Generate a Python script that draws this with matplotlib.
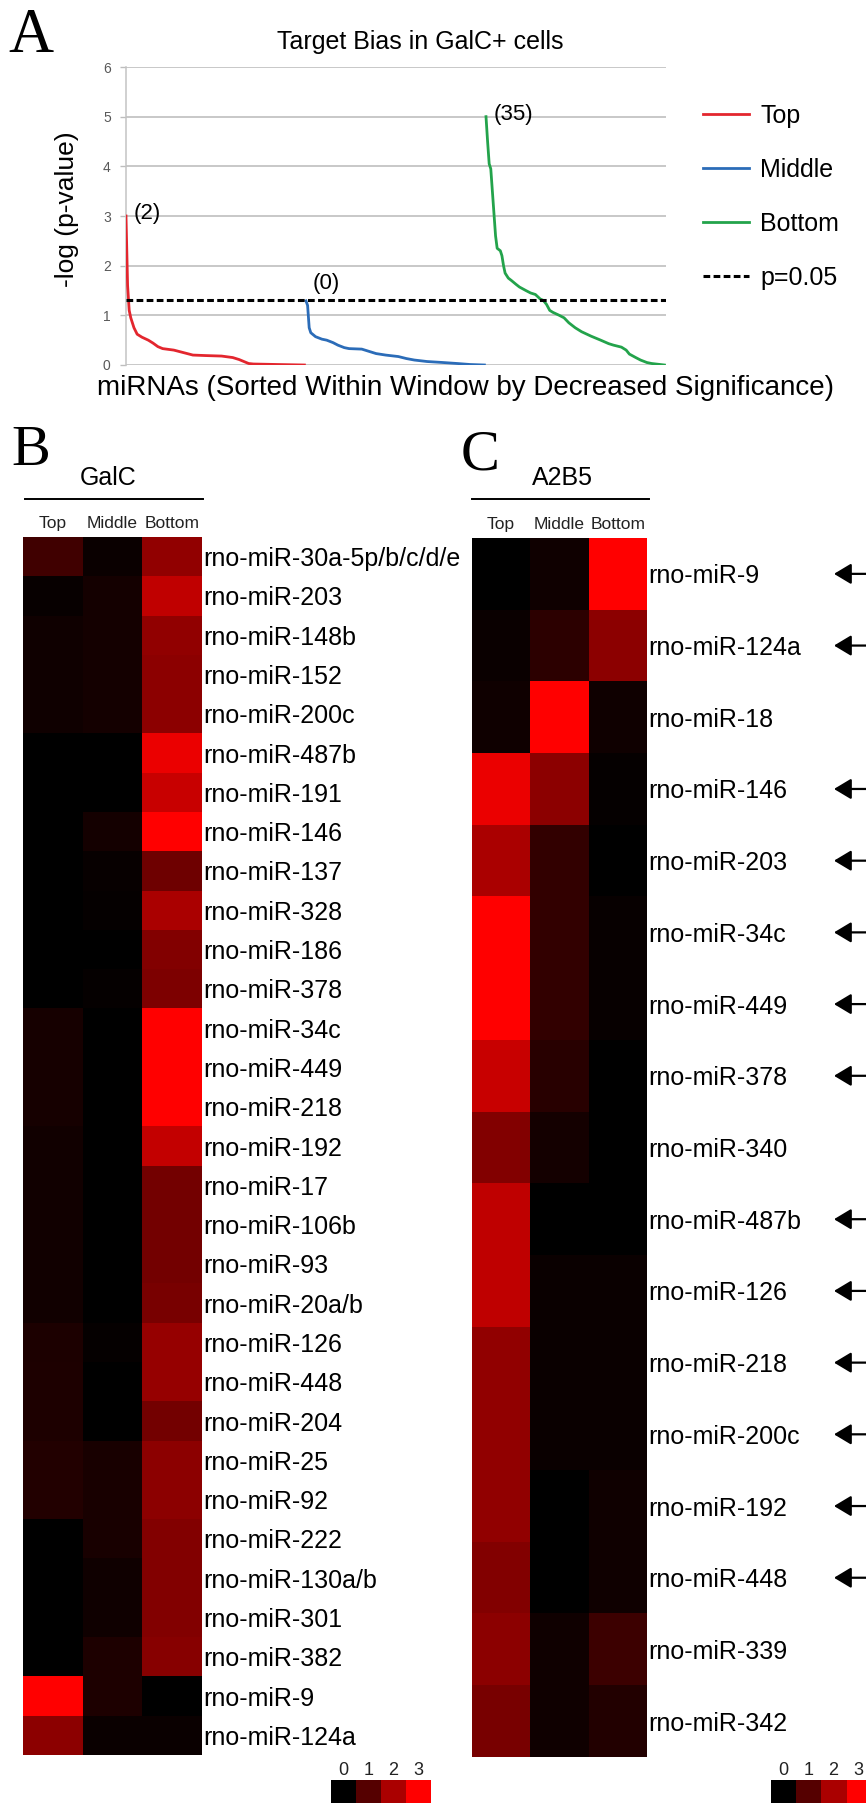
import matplotlib
matplotlib.use("Agg")
import matplotlib.pyplot as plt
import numpy as np
from matplotlib.colors import LinearSegmentedColormap
from matplotlib.lines import Line2D

plt.rcParams["font.family"] = ["Liberation Sans", "DejaVu Sans"]

# ---- panel A data: ranks within each window and -log(p)
top_rank = [0, 1, 2, 3, 5, 7, 10, 14, 17, 20, 23, 30, 36, 42, 50, 60, 67, 71, 74, 77, 80, 95, 112]
top_logp = [3.0, 1.6, 1.1, 0.95, 0.75, 0.62, 0.56, 0.5, 0.44, 0.37, 0.33, 0.3, 0.25, 0.2, 0.19, 0.18, 0.15, 0.11, 0.07, 0.03, 0.02, 0.01, 0.0]

mid_rank = [0, 1, 2, 3, 6, 10, 13, 17, 20, 24, 27, 35, 40, 44, 50, 58, 63, 68, 76, 86, 95, 103, 112]
mid_logp = [1.29, 1.2, 0.75, 0.65, 0.57, 0.52, 0.5, 0.45, 0.4, 0.35, 0.33, 0.32, 0.27, 0.23, 0.2, 0.17, 0.13, 0.1, 0.07, 0.05, 0.03, 0.01, 0.0]

bot_rank = [0, 1, 2, 3, 4, 5, 6, 7, 9, 10, 11, 12, 14, 16, 19, 21, 25, 28, 31, 34, 36, 38, 40,
            42, 46, 49, 52, 56, 60, 66, 72, 77, 80, 85, 88, 90, 94, 97, 101, 104, 112]
bot_logp = [5.0, 4.5, 4.05, 3.95, 3.5, 3.05, 2.6, 2.35, 2.3, 2.2, 2.0, 1.85, 1.75, 1.7, 1.62, 1.57,
            1.5, 1.45, 1.42, 1.33, 1.3, 1.22, 1.1, 1.06, 1.0, 0.95, 0.85, 0.75, 0.67, 0.58, 0.5,
            0.43, 0.4, 0.36, 0.3, 0.22, 0.15, 0.1, 0.05, 0.03, 0.0]

window_start = [0, 113, 226]
window_names = ["Top", "Middle", "Bottom"]
window_colors = ["#e3262e", "#2b6cb8", "#23a34b"]
n_significant = ["(2)", "(0)", "(35)"]
threshold = 1.3  # -log10(0.05)

# ---- panel B (GalC) heatmap
galc_mirnas = ["rno-miR-30a-5p/b/c/d/e", "rno-miR-203", "rno-miR-148b", "rno-miR-152", "rno-miR-200c",
               "rno-miR-487b", "rno-miR-191", "rno-miR-146", "rno-miR-137", "rno-miR-328",
               "rno-miR-186", "rno-miR-378", "rno-miR-34c", "rno-miR-449", "rno-miR-218",
               "rno-miR-192", "rno-miR-17", "rno-miR-106b", "rno-miR-93", "rno-miR-20a/b",
               "rno-miR-126", "rno-miR-448", "rno-miR-204", "rno-miR-25", "rno-miR-92",
               "rno-miR-222", "rno-miR-130a/b", "rno-miR-301", "rno-miR-382", "rno-miR-9",
               "rno-miR-124a"]
galc_top = [0.75, 0.09, 0.18, 0.18, 0.18, 0, 0, 0, 0, 0, 0, 0, 0.26, 0.26, 0.26, 0.21, 0.21, 0.21,
            0.21, 0.21, 0.33, 0.35, 0.35, 0.41, 0.41, 0, 0, 0, 0, 3.0, 1.65]
galc_mid = [0.12, 0.24, 0.24, 0.24, 0.24, 0, 0, 0.24, 0.09, 0.06, 0, 0.06, 0, 0, 0, 0, 0, 0,
            0, 0, 0.06, 0, 0, 0.29, 0.29, 0.29, 0.18, 0.18, 0.35, 0.35, 0.12]
galc_bot = [1.7, 2.26, 1.7, 1.65, 1.65, 2.76, 2.35, 3.0, 1.3, 2.0, 1.53, 1.47, 3.0, 3.0, 3.0, 2.29,
            1.35, 1.35, 1.35, 1.41, 1.76, 1.76, 1.35, 1.65, 1.65, 1.53, 1.53, 1.53, 1.59, 0, 0.12]

# ---- panel C (A2B5) heatmap
a2b5_mirnas = ["rno-miR-9", "rno-miR-124a", "rno-miR-18", "rno-miR-146", "rno-miR-203", "rno-miR-34c",
               "rno-miR-449", "rno-miR-378", "rno-miR-340", "rno-miR-487b", "rno-miR-126",
               "rno-miR-218", "rno-miR-200c", "rno-miR-192", "rno-miR-448", "rno-miR-339",
               "rno-miR-342"]
a2b5_top = [0, 0.12, 0.18, 2.76, 2.0, 3.0, 3.0, 2.35, 1.53, 2.24, 2.24, 1.7, 1.7, 1.7, 1.53, 1.65, 1.41]
a2b5_mid = [0.18, 0.53, 3.0, 1.65, 0.59, 0.59, 0.59, 0.47, 0.24, 0, 0.12, 0.12, 0.12, 0, 0, 0.18, 0.18]
a2b5_bot = [3.0, 1.65, 0.18, 0.06, 0, 0.09, 0.09, 0, 0, 0, 0.12, 0.12, 0.12, 0.18, 0.18, 0.71, 0.41]
a2b5_arrow = [1, 1, 0, 1, 1, 1, 1, 1, 0, 1, 1, 1, 1, 1, 1, 0, 0]

scale_ticks = [0, 1, 2, 3]

W, H = 866, 1803
fig = plt.figure(figsize=(W / 100, H / 100), dpi=100)


def px_axes(left, top, width, height):
    return fig.add_axes([left / W, 1 - (top + height) / H, width / W, height / H])


def px_text(x, y, s, **kw):
    return fig.text(x / W, 1 - y / H, s, **kw)


def px_line(x0, x1, y, **kw):
    fig.add_artist(Line2D([x0 / W, x1 / W], [1 - y / H, 1 - y / H], transform=fig.transFigure, **kw))


cmap = LinearSegmentedColormap.from_list("blackred", ["#000000", "#ff0000"])

# ================= Panel A =================
ax = px_axes(126, 67, 540, 298)
for start, ranks, vals, name, col in zip(window_start, [top_rank, mid_rank, bot_rank],
                                         [top_logp, mid_logp, bot_logp], window_names, window_colors):
    ax.plot(np.array(ranks) + start, vals, color=col, lw=2.0, label=name, zorder=3,
            solid_joinstyle="round")
ax.axhline(threshold, color="black", lw=2.2, ls=(0, (2.2, 1.1)), label="p=0.05", zorder=4)

for start, vals, txt in zip(window_start, [top_logp, mid_logp, bot_logp], n_significant):
    if txt == "(0)":
        ax.text(start + 4, vals[0] + 0.35, txt, fontsize=16, ha="left", va="center")
    else:
        ax.text(start + 5, vals[0] + 0.05, txt, fontsize=16, ha="left", va="center")

ax.set_xlim(0, 339)
ax.set_ylim(0, 6)
ax.set_yticks(range(7))
ax.set_xticks([])
ax.yaxis.grid(True, color="#c4c4c4", lw=1.3)
ax.set_axisbelow(True)
ax.tick_params(axis="y", colors="#bdbdbd", labelcolor="#595959", labelsize=10, length=4, width=1, pad=7)
for s in ["top", "right", "bottom"]:
    ax.spines[s].set_visible(False)
ax.spines["left"].set_color("#c4c4c4")
ax.spines["left"].set_linewidth(1.1)

ax.legend(loc="upper left", bbox_to_anchor=(703 / W, 1 - 104 / H), bbox_transform=fig.transFigure,
          frameon=False, fontsize=18, handlelength=1.85, handletextpad=0.45, labelspacing=1.2,
          borderpad=0, borderaxespad=0)

px_text(420, 42, "Target Bias in GalC+ cells", fontsize=18, ha="center", va="center")
px_text(465, 388, "miRNAs (Sorted Within Window by Decreased Significance)", fontsize=20,
        ha="center", va="center")
px_text(67, 209, "-log (p-value)", fontsize=19, rotation=90, ha="center", va="center")

# ================= Heatmaps =================
def heatmap(left, top, width, height, rows, cols_vals):
    hx = px_axes(left, top, width, height)
    data = np.column_stack(cols_vals)
    hx.imshow(data, cmap=cmap, vmin=0, vmax=3, aspect="auto", interpolation="nearest")
    hx.set_yticks(range(len(rows)))
    hx.set_yticklabels(rows, fontsize=18)
    hx.yaxis.tick_right()
    hx.xaxis.tick_top()
    hx.set_xticks(range(3))
    hx.set_xticklabels(window_names, fontsize=12.5, color="#222222")
    hx.tick_params(length=0, pad=1)
    hx.tick_params(axis="x", pad=4)
    for s in hx.spines.values():
        s.set_visible(False)
    return hx


hb = heatmap(23, 537, 179, 1218, galc_mirnas, [galc_top, galc_mid, galc_bot])
hc = heatmap(472, 538, 175, 1219, a2b5_mirnas, [a2b5_top, a2b5_mid, a2b5_bot])

for i, flag in enumerate(a2b5_arrow):
    if flag:
        hc.annotate("", xy=(834, i), xytext=(880, i), xycoords=("figure pixels", "data"),
                    textcoords=("figure pixels", "data"), annotation_clip=False,
                    arrowprops=dict(arrowstyle="-|>,head_length=0.75,head_width=0.45",
                                    color="black", lw=1.6, mutation_scale=14, shrinkA=0, shrinkB=0))

px_text(108, 478, "GalC", fontsize=18, ha="center", va="center")
px_line(25, 203, 499, color="black", lw=1.4)
px_text(562, 478, "A2B5", fontsize=18, ha="center", va="center")
px_line(472, 649, 499, color="black", lw=1.4)

# colour scales
for left in [331, 771]:
    cx = px_axes(left, 1780, 100, 23)
    cx.imshow([scale_ticks], cmap=cmap, vmin=0, vmax=3, aspect="auto", interpolation="nearest")
    cx.xaxis.tick_top()
    cx.set_xticks(range(4))
    cx.set_xticklabels([str(t) for t in scale_ticks], fontsize=13, color="#222222")
    cx.set_yticks([])
    cx.tick_params(length=0, pad=1)
    for s in cx.spines.values():
        s.set_visible(False)

# panel letters
px_text(8, 52, "A", fontsize=45, family="Liberation Serif", va="baseline", ha="left")
px_text(11, 465, "B", fontsize=42, family="Liberation Serif", va="baseline", ha="left")
px_text(461, 470, "C", fontsize=42, family="Liberation Serif", va="baseline", ha="left")

fig.savefig("out.png", dpi=100)
